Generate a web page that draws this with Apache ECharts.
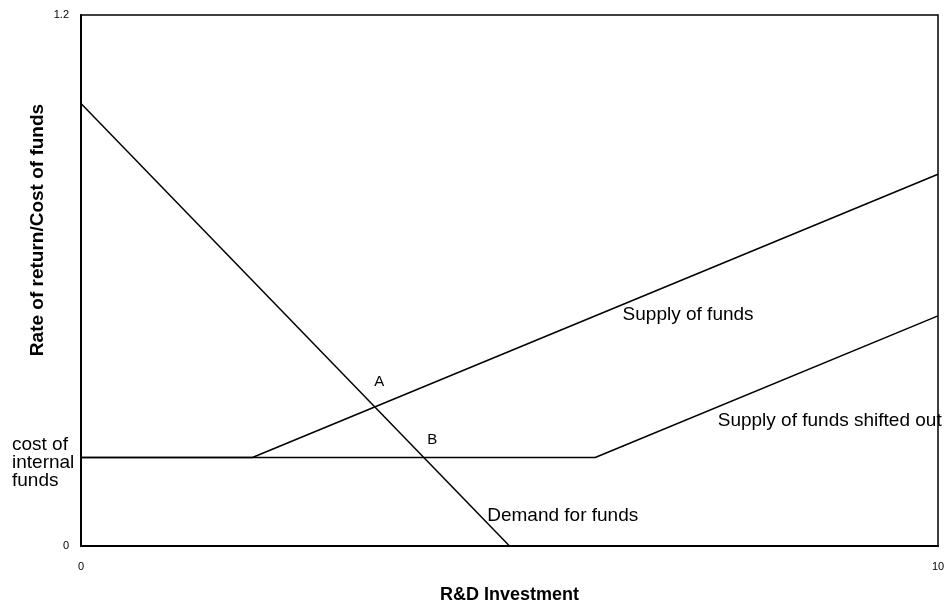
<!DOCTYPE html>
<html>
<head>
<meta charset="utf-8">
<title>R&D Investment funding</title>
<script src="https://cdn.jsdelivr.net/npm/echarts@6/dist/echarts.min.js"></script>
<style>
    html, body { margin: 0; padding: 0; background: #fff; }
    #main { width: 950px; height: 609px; }
</style>
</head>
<body>
<div id="main"></div>
<script>
    // curves (x = R&D investment, y = rate of return / cost of funds)
    var demandX = [0, 5];
    var demandY = [1.0, 0];
    var supplyX = [0, 2, 10];
    var supplyY = [0.2, 0.2, 0.84];
    var shiftedX = [0, 6, 10];
    var shiftedY = [0.2, 0.2, 0.52];

    // text annotations, placed in data coordinates
    var annoText = ['A', 'B', 'Demand for funds', 'Supply of funds', 'Supply of funds shifted out'];
    var annoX = [3.48, 4.1, 4.74, 6.32, 7.43];
    var annoY = [0.37, 0.24, 0.068, 0.523, 0.282];
    var annoAlign = ['center', 'center', 'left', 'left', 'left'];

    function pairs(xs, ys) {
        return xs.map(function (x, i) { return [x, ys[i]]; });
    }

    var myChart = echarts.init(document.getElementById('main'));
    var lineStyle = { color: '#000', width: 1.5 };
    var option = {
        backgroundColor: '#fff',
        animation: false,
        textStyle: { fontFamily: 'Liberation Sans, Arial, sans-serif', color: '#000' },
        grid: {
            left: 81, right: 12, top: 15, bottom: 62,
            show: true, borderColor: '#000', borderWidth: 1.5
        },
        xAxis: {
            type: 'value', min: 0, max: 10, interval: 10,
            name: 'R&D Investment', nameLocation: 'middle', nameGap: 40,
            nameTextStyle: { fontSize: 18, fontWeight: 'bold', color: '#000' },
            axisLine: { lineStyle: { color: '#000', width: 2 } },
            axisTick: { show: false },
            splitLine: { show: false },
            axisLabel: { fontSize: 11, color: '#000', margin: 15 }
        },
        yAxis: {
            type: 'value', min: 0, max: 1.2, interval: 1.2,
            axisLine: { show: true, lineStyle: { color: '#000', width: 2 } },
            axisTick: { show: false },
            splitLine: { show: false },
            axisLabel: { fontSize: 11, color: '#000', margin: 12 }
        },
        graphic: [{
            // y axis title sits above the middle of the axis in the original
            type: 'text', x: 38, y: 230, rotation: Math.PI / 2,
            style: {
                text: 'Rate of return/Cost of funds',
                font: 'bold 19px "Liberation Sans", Arial, sans-serif',
                fill: '#000', align: 'center', verticalAlign: 'middle'
            }
        }, {
            type: 'text', left: 12, top: 435,
            style: {
                text: 'cost of\ninternal\nfunds',
                font: '19px "Liberation Sans", Arial, sans-serif',
                lineHeight: 18, fill: '#000'
            }
        }],
        series: [
            { name: 'Demand for funds', type: 'line', data: pairs(demandX, demandY),
              symbol: 'none', lineStyle: lineStyle },
            { name: 'Supply of funds', type: 'line', data: pairs(supplyX, supplyY),
              symbol: 'none', lineStyle: lineStyle },
            { name: 'Supply of funds shifted out', type: 'line', data: pairs(shiftedX, shiftedY),
              symbol: 'none', lineStyle: lineStyle },
            {
                name: 'labels', type: 'scatter', symbolSize: 0, silent: true,
                itemStyle: { opacity: 1 },
                data: annoText.map(function (t, i) {
                    return {
                        value: [annoX[i], annoY[i]],
                        label: { show: true, formatter: t, position: 'inside', align: annoAlign[i],
                                 verticalAlign: 'middle', fontSize: t.length > 1 ? 19 : 15, color: '#000' }
                    };
                })
            }
        ]
    };
    myChart.setOption(option);
</script>
</body>
</html>
